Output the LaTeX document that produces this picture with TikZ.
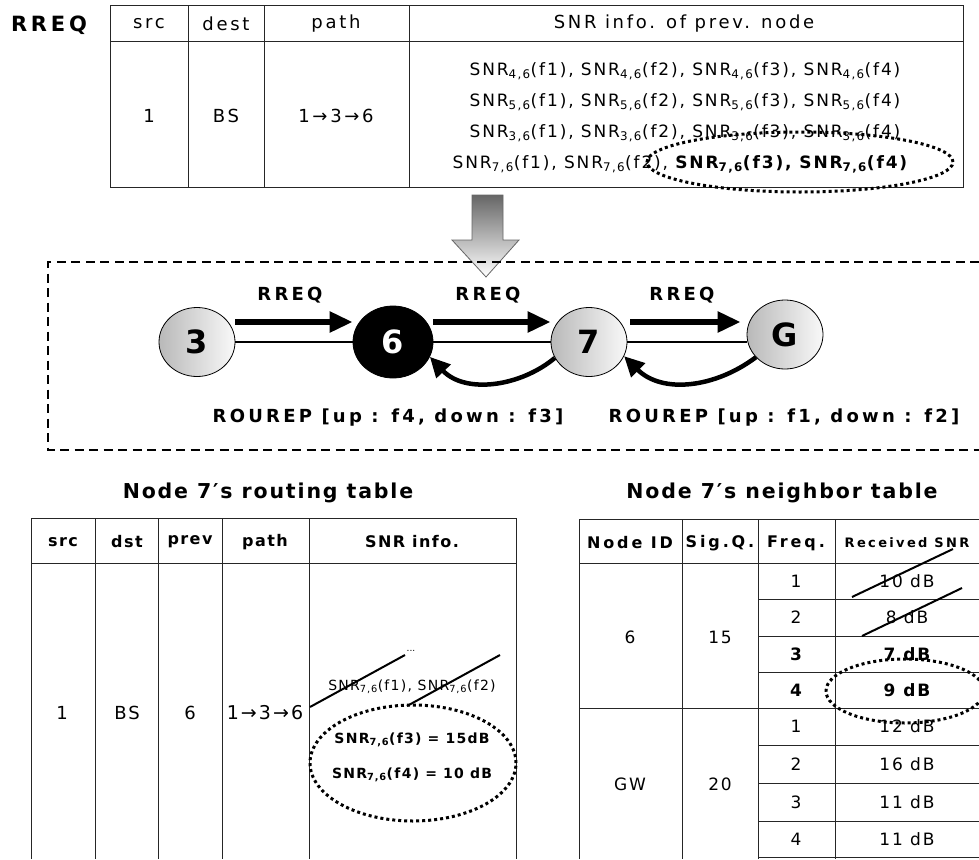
\documentclass[tikz,border=0pt]{standalone}
\usepackage{fontspec}
\setmainfont{DejaVu Sans}
\newfontfamily\lsA{DejaVu Sans}[LetterSpace=9]
\newfontfamily\lsD{DejaVu Sans}[LetterSpace=11]
\newfontfamily\lsB{DejaVu Sans}[LetterSpace=15]
\newfontfamily\lsC{DejaVu Sans}[LetterSpace=18]
\usetikzlibrary{shapes.geometric,arrows.meta}
\newcommand\fsz[1]{\fontsize{#1}{#1}\selectfont}
\newcommand\snr[2]{SNR\textsubscript{#1}(f#2)}
\tikzset{
  tline/.style={line width=1pt, draw=black!85},
  txt/.style={inner sep=0pt, anchor=center},
  gnode/.style={ellipse, draw, line width=0.8pt, left color=gray!55, right color=gray!5,
     minimum width=76pt, minimum height=69pt, inner sep=0pt, font=\bfseries\fsz{32}},
  bnode/.style={ellipse, draw, fill=black, text=white, line width=0.8pt,
     minimum width=80pt, minimum height=72pt, inner sep=0pt, font=\bfseries\fsz{32}},
  rreqarrow/.style={line width=5.5pt, -{Triangle[length=23pt,width=20pt]}},
  reparrow/.style={line width=4.5pt, -{Triangle[length=20pt,width=19pt]}},
  dotell/.style={ellipse, draw, line width=3pt, dash pattern=on 3pt off 3pt, inner sep=0pt},
  strike/.style={line width=2pt},
  lbl/.style={txt, font=\lsC\bfseries\fsz{18}},
  toptxt/.style={txt, font=\lsB\fsz{18}},
  rowtxt/.style={txt, font=\lsD\fsz{17}},
  nbtxt/.style={txt, font=\lsD\fsz{17}},
}
\begin{document}
\begin{tikzpicture}[x=1pt,y=-1pt]
\useasboundingbox (0,0) rectangle (979,859);
\fill[white] (0,0) rectangle (979,859);

% ---------------- top table
\draw[tline] (110,6) rectangle (963,187);
\draw[tline] (110,42) -- (963,42);
\foreach \x in {188,264,409} \draw[tline] (\x,6) -- (\x,187);
\node[txt, font=\lsC\bfseries\fsz{21}] (lblrreq) at (49,25) {RREQ};
\node[toptxt] (th1) at (149,24) {src};
\node[toptxt] (th2) at (226,24) {dest};
\node[toptxt] (th3) at (336,24) {path};
\node[toptxt] (th4) at (684,24) {SNR info. of prev. node};
\node[toptxt] (tb1) at (149,116) {1};
\node[toptxt] (tb2) at (226,116) {BS};
\node[toptxt] (tb3) at (336,116) {1→3→6};
\node[rowtxt] (tr1) at (685,71) {\snr{4,6}{1}, \snr{4,6}{2}, \snr{4,6}{3}, \snr{4,6}{4}};
\node[rowtxt] (tr2) at (685,102) {\snr{5,6}{1}, \snr{5,6}{2}, \snr{5,6}{3}, \snr{5,6}{4}};
\node[rowtxt] (tr3) at (685,133) {\snr{3,6}{1}, \snr{3,6}{2}, \snr{3,6}{3}, \snr{3,6}{4}};
\node[rowtxt] (tr4) at (680,164) {\snr{7,6}{1}, \snr{7,6}{2}, {\bfseries\snr{7,6}{3}, \snr{7,6}{4}}};
\node[dotell, minimum width=306pt, minimum height=60pt] (e1) at (800,162) {};

% ---------------- block arrow
\draw[draw=black!60, line width=0.8pt, top color=black!60, bottom color=white]
  (472,195) -- (503,195) -- (503,240) -- (519,240) -- (486,277) -- (452,240) -- (472,240) -- cycle;

% ---------------- dashed frame
\draw[line width=1.6pt, dash pattern=on 9pt off 5.5pt] (979,262) -- (48,262) -- (48,450) -- (979,450);

% ---------------- nodes
\node[gnode] (n3) at (197,342) {3};
\node[bnode] (n6) at (393,342) {6};
\node[gnode] (n7) at (589,342) {7};
\node[gnode] (nG) at (785,334.5) {G};

\draw[line width=1.5pt] (n3) -- (n6);
\draw[line width=1.5pt] (n6) -- (n7);
\draw[line width=1.5pt] (n7.east) -- (n7.east -| nG.west);

\draw[rreqarrow] ([yshift=20pt]n3.east) -- ([yshift=20pt]n6.west);
\draw[rreqarrow] ([yshift=20pt]n6.east) -- ([yshift=20pt]n7.west);
\draw[rreqarrow] ([xshift=3pt,yshift=20pt]n7.east) -- ([xshift=-6pt,yshift=12.5pt]nG.west);

\node[lbl] (q1) at (290,295) {RREQ};
\node[lbl] (q2) at (488,295) {RREQ};
\node[lbl] (q3) at (682,295) {RREQ};

\draw[reparrow] (n7.205) .. controls (520,387) and (465,394) .. (n6.-22);
\draw[reparrow] (nG.218) .. controls (715,388) and (662,394) .. (n7.-22);

\node[lbl] (p1) at (388,418) {ROUREP [up : f4, down : f3]};
\node[lbl] (p2) at (784,418) {ROUREP [up : f1, down : f2]};

% ---------------- routing table
\node[txt, font=\lsA\bfseries\fsz{20.5}] (rt) at (268,493) {Node 7′s routing table};
\draw[tline] (31,859) -- (31,518) -- (516,518) -- (516,859);
\draw[tline] (31,563) -- (516,563);
\foreach \x in {95,158,222,309} \draw[tline] (\x,518) -- (\x,859);
\node[txt, font=\lsA\bfseries\fsz{16}] (rh1) at (63,542) {src};
\node[txt, font=\lsA\bfseries\fsz{16}] (rh2) at (127,542) {dst};
\node[txt, font=\lsA\bfseries\fsz{16}] (rh3) at (190,542) {prev};
\node[txt, font=\lsA\bfseries\fsz{16}] (rh4) at (265,542) {path};
\node[txt, font=\lsA\bfseries\fsz{16}] (rh5) at (412,542) {SNR info.};
\node[txt, font=\lsD\fsz{18}] (rb1) at (62,713) {1};
\node[txt, font=\lsD\fsz{18}] (rb2) at (127,713) {BS};
\node[txt, font=\lsD\fsz{18}] (rb3) at (190,713) {6};
\node[txt, font=\lsD\fsz{19}] (rb4) at (265,713) {1→3→6};
\node[txt, font=\lsA\fsz{14}] (rs1) at (412,687) {\snr{7,6}{1}, \snr{7,6}{2}};
\node[txt, font=\fsz{9}] (rdots) at (411,651) {...};
\draw[strike] (310,707) -- (405,655);
\draw[strike] (407,706) -- (500,655);
\node[txt, font=\lsA\bfseries\fsz{14}] (rs3) at (412,740) {\snr{7,6}{3} = 15dB};
\node[txt, font=\lsA\bfseries\fsz{14}] (rs4) at (412,775) {\snr{7,6}{4} = 10 dB};
\node[dotell, minimum width=206pt, minimum height=116pt] (e2) at (413,763) {};

% ---------------- neighbor table
\node[txt, font=\lsA\bfseries\fsz{20.5}] (nt) at (782,493) {Node 7′s neighbor table};
\draw[tline] (579,519) -- (979,519);
\draw[tline] (579,563) -- (979,563);
\draw[tline] (579,708) -- (979,708);
\foreach \y in {599,636,672,745,783,821,857} \draw[tline] (758,\y) -- (979,\y);
\foreach \x in {579,682,758,835} \draw[tline] (\x,519) -- (\x,859);
\node[txt, font=\lsC\bfseries\fsz{16}] (nh1) at (630,543) {Node ID};
\node[txt, font=\lsC\bfseries\fsz{16}] (nh2) at (720,543) {Sig.Q.};
\node[txt, font=\lsC\bfseries\fsz{16}] (nh3) at (796,543) {Freq.};
\node[txt, font=\lsC\bfseries\fsz{13}] (nh4) at (907,543) {Received SNR};
\node[nbtxt] (nid1) at (630,637) {6};
\node[nbtxt] (nsq1) at (720,637) {15};
\node[nbtxt] (nid2) at (630,784) {GW};
\node[nbtxt] (nsq2) at (720,784) {20};
\foreach \i/\y/\f/\s/\w in {1/581/1/10 dB/\mdseries, 2/617.5/2/8 dB/\mdseries, 3/654/3/7 dB/\bfseries, 4/690/4/9 dB/\bfseries,
   5/726.5/1/12 dB/\mdseries, 6/764/2/16 dB/\mdseries, 7/802/3/11 dB/\mdseries, 8/839/4/11 dB/\mdseries}{
  \node[nbtxt, font=\lsD\fsz{17}\w] (fq\i) at (796,\y) {\f};
  \node[nbtxt, font=\lsD\fsz{17}\w] (sv\i) at (907,\y) {\s};
}
\draw[strike] (852,597) -- (953,549);
\draw[strike] (862,636) -- (962,588);
\node[dotell, minimum width=158pt, minimum height=64pt] (e3) at (905,691) {};
\end{tikzpicture}
\end{document}
